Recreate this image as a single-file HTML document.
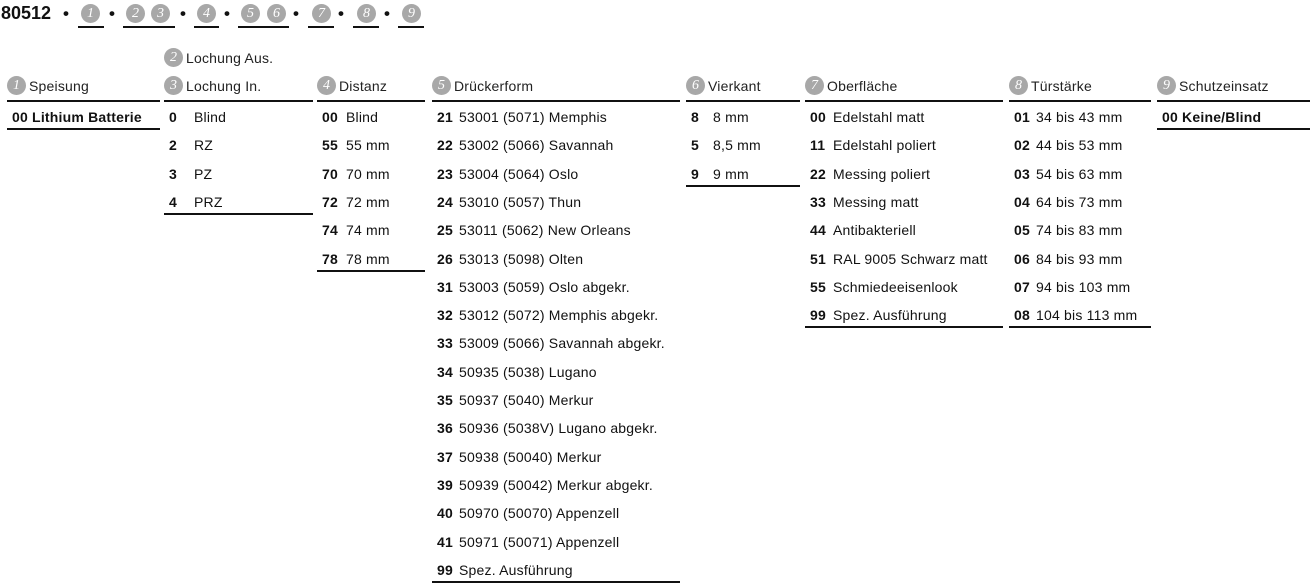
<!DOCTYPE html>
<html><head><meta charset="utf-8"><style>
body{margin:0;width:1315px;height:585px;background:#fff;font-family:"Liberation Sans",sans-serif;color:#111;position:relative;overflow:hidden}
.a{position:absolute;white-space:nowrap}
.c{position:absolute;width:19px;height:19px;border-radius:50%;background:#a8a8a8;color:#fff;font:italic 14px/19px "Liberation Serif",serif;text-align:center}
.t{font-size:14px;line-height:18px;letter-spacing:0.2px}
.b{font-weight:bold}
.ln{position:absolute;height:2px;background:#111}
</style></head><body>
<div class="a b" style="left:1px;top:2px;font-size:18px;line-height:22px">80512</div>
<div class="a b" style="left:63px;top:3px;font-size:17px;line-height:22px">•</div>
<div class="a b" style="left:109px;top:3px;font-size:17px;line-height:22px">•</div>
<div class="a b" style="left:180px;top:3px;font-size:17px;line-height:22px">•</div>
<div class="a b" style="left:224px;top:3px;font-size:17px;line-height:22px">•</div>
<div class="a b" style="left:293px;top:3px;font-size:17px;line-height:22px">•</div>
<div class="a b" style="left:338px;top:3px;font-size:17px;line-height:22px">•</div>
<div class="a b" style="left:384px;top:3px;font-size:17px;line-height:22px">•</div>
<div class="c" style="left:81px;top:4px">1</div>
<div class="c" style="left:126px;top:4px">2</div>
<div class="c" style="left:151px;top:4px">3</div>
<div class="c" style="left:197px;top:4px">4</div>
<div class="c" style="left:241px;top:4px">5</div>
<div class="c" style="left:267px;top:4px">6</div>
<div class="c" style="left:312px;top:4px">7</div>
<div class="c" style="left:357px;top:4px">8</div>
<div class="c" style="left:402px;top:4px">9</div>
<div class="ln" style="left:78px;width:26px;top:26px"></div>
<div class="ln" style="left:123px;width:52px;top:26px"></div>
<div class="ln" style="left:194px;width:25px;top:26px"></div>
<div class="ln" style="left:238px;width:51px;top:26px"></div>
<div class="ln" style="left:308px;width:26px;top:26px"></div>
<div class="ln" style="left:353px;width:26px;top:26px"></div>
<div class="ln" style="left:398px;width:26px;top:26px"></div>
<div id="root"></div>
<script>
var H=[
[7,153,[["1","Speisung"]],[["00 Lithium Batterie","",1]],0],
[164,149,[["2","Lochung Aus."],["3","Lochung In."]],[["0","Blind"],["2","RZ"],["3","PZ"],["4","PRZ"]],30],
[317,108,[["4","Distanz"]],[["00","Blind"],["55","55 mm"],["70","70 mm"],["72","72 mm"],["74","74 mm"],["78","78 mm"]],29],
[432,248,[["5","Drückerform"]],[["21","53001 (5071) Memphis"],["22","53002 (5066) Savannah"],["23","53004 (5064) Oslo"],["24","53010 (5057) Thun"],["25","53011 (5062) New Orleans"],["26","53013 (5098) Olten"],["31","53003 (5059) Oslo abgekr."],["32","53012 (5072) Memphis abgekr."],["33","53009 (5066) Savannah abgekr."],["34","50935 (5038) Lugano"],["35","50937 (5040) Merkur"],["36","50936 (5038V) Lugano abgekr."],["37","50938 (50040) Merkur"],["39","50939 (50042) Merkur abgekr."],["40","50970 (50070) Appenzell"],["41","50971 (50071) Appenzell"],["99","Spez. Ausführung"]],27],
[686,114,[["6","Vierkant"]],[["8","8 mm"],["5","8,5 mm"],["9","9 mm"]],27],
[805,198,[["7","Oberfläche"]],[["00","Edelstahl matt"],["11","Edelstahl poliert"],["22","Messing poliert"],["33","Messing matt"],["44","Antibakteriell"],["51","RAL 9005 Schwarz matt"],["55","Schmiedeeisenlook"],["99","Spez. Ausführung"]],28],
[1009,142,[["8","Türstärke"]],[["01","34 bis 43 mm"],["02","44 bis 53 mm"],["03","54 bis 63 mm"],["04","64 bis 73 mm"],["05","74 bis 83 mm"],["06","84 bis 93 mm"],["07","94 bis 103 mm"],["08","104 bis 113 mm"]],27],
[1157,153,[["9","Schutzeinsatz"]],[["00 Keine/Blind","",1]],0]
];
var s="";
H.forEach(function(c){
 var x=c[0],w=c[1];
 c[2].forEach(function(h,i){var y=(c[2].length==2&&i==0)?49:77;
  s+='<div class="c" style="left:'+(x)+'px;top:'+(y-1)+'px">'+h[0]+'</div><div class="a t" style="left:'+(x+22)+'px;top:'+(y)+'px;color:#222">'+h[1]+'</div>';});
 s+='<div class="ln" style="left:'+x+'px;width:'+w+'px;top:100px"></div>';
 c[3].forEach(function(r,i){var y=108+28.3*i;
  if(r[2]) s+='<div class="a t b" style="left:'+(x+5)+'px;top:'+y+'px">'+r[0]+'</div>';
  else s+='<div class="a t b" style="left:'+(x+5)+'px;top:'+y+'px">'+r[0]+'</div><div class="a t" style="left:'+(x+c[4])+'px;top:'+y+'px">'+r[1]+'</div>';});
 var n=c[3].length;
 s+='<div class="ln" style="left:'+x+'px;width:'+w+'px;top:'+Math.round(128+28.3*(n-1))+'px"></div>';
});
document.getElementById('root').innerHTML=s;
</script>
</body></html>
